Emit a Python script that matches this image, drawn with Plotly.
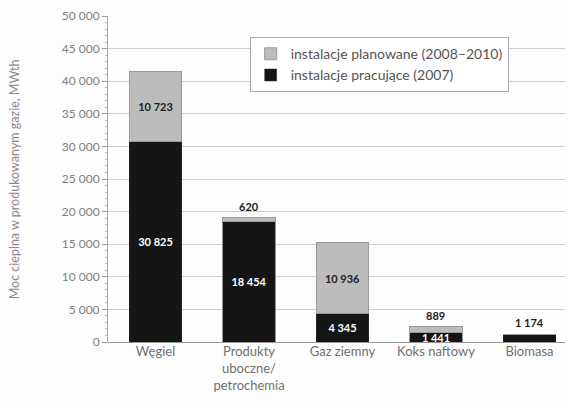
import plotly.graph_objects as go

categories = ["Węgiel", "Produkty<br>uboczne/<br>petrochemia", "Gaz ziemny", "Koks naftowy", "Biomasa"]
working = [30825, 18454, 4345, 1441, 1174]
planned = [10723, 620, 10936, 889, 0]
tick_vals = [0, 5000, 10000, 15000, 20000, 25000, 30000, 35000, 40000, 45000, 50000]
tick_text = ["0", "5 000", "10 000", "15 000", "20 000", "25 000", "30 000", "35 000", "40 000", "45 000", "50 000"]

def fmt(v):
    return f"{v:,}".replace(",", " ")

# labels drawn inside bars vs. above them
working_inside = [True, True, True, True, False]
planned_inside = [True, False, True, False, None]

FONT = "Lato"
fig = go.Figure()
fig.add_trace(go.Bar(
    x=list(range(len(categories))), y=working, name="instalacje pracujące (2007)",
    marker=dict(color="#151515", line=dict(color="#333", width=0.5)),
    width=0.565,
    text=[fmt(v) if ins else "" for v, ins in zip(working, working_inside)],
    textposition="inside", insidetextanchor="middle", constraintext="none",
    textfont=dict(color="white", size=11, family=FONT, weight="bold"),
    legendgroup="a", hoverinfo="skip",
))
fig.add_trace(go.Bar(
    x=list(range(len(categories))), y=planned, name="instalacje planowane (2008–2010)",
    marker=dict(color="#bcbcbc", line=dict(color="#9a9a9a", width=1)),
    width=0.565,
    text=[fmt(v) if ins else "" for v, ins in zip(planned, planned_inside)],
    textposition="inside", insidetextanchor="middle", constraintext="none",
    textfont=dict(color="#222", size=11, family=FONT, weight="bold"),
    legendgroup="b", hoverinfo="skip",
))

annotations = []
for i, (w, p) in enumerate(zip(working, planned)):
    if planned_inside[i] is False:
        annotations.append(dict(x=i, y=w + p, text=fmt(p), showarrow=False, yanchor="bottom", yshift=3,
                                font=dict(size=11, color="#222", family=FONT, weight="bold")))
    if not working_inside[i]:
        annotations.append(dict(x=i, y=w + p, text=fmt(w), showarrow=False, yanchor="bottom", yshift=3,
                                font=dict(size=11, color="#222", family=FONT, weight="bold")))

annotations.append(dict(xref="paper", yref="paper", x=-0.205, y=0.5, xanchor="center", yanchor="middle",
                        text="Moc cieplna w produkowanym gazie, MWth", textangle=-90, showarrow=False,
                        font=dict(size=12.5, color="#8a8a8a", family=FONT)))

fig.update_layout(
    barmode="stack",
    width=568, height=408,
    margin=dict(l=108, r=3, t=16, b=66),
    paper_bgcolor="#fdfdfd", plot_bgcolor="#fdfdfd",
    font=dict(family=FONT, color="#777"),
    showlegend=True,
    legend=dict(x=0.31, y=0.935, xanchor="left", yanchor="top", traceorder="reversed",
                bgcolor="white", bordercolor="#aaa", borderwidth=1,
                font=dict(size=14, color="#555", family=FONT), tracegroupgap=11,
                itemwidth=30),
    annotations=annotations,
    bargap=0.4,
)
fig.update_xaxes(
    range=[-0.508, 4.38], tickmode="array", tickvals=list(range(len(categories))), ticktext=categories,
    showgrid=False, zeroline=False, showline=False, ticks="",
    tickfont=dict(size=13, color="#707070", family=FONT),
)
fig.update_yaxes(
    range=[0, 50000], tickmode="array", tickvals=tick_vals, ticktext=tick_text,
    showgrid=True, gridcolor="#cfcfcf", gridwidth=1, zeroline=True, zerolinecolor="#999", zerolinewidth=1,
    showline=True, linecolor="#aaa", linewidth=1, ticks="outside", ticklen=5, tickcolor="#999",
    tickfont=dict(size=12, color="#808080", family=FONT),
    minor=dict(ticks="outside", ticklen=2, tickcolor="#bbb", dtick=1000),
)

fig.write_html("out.html")
